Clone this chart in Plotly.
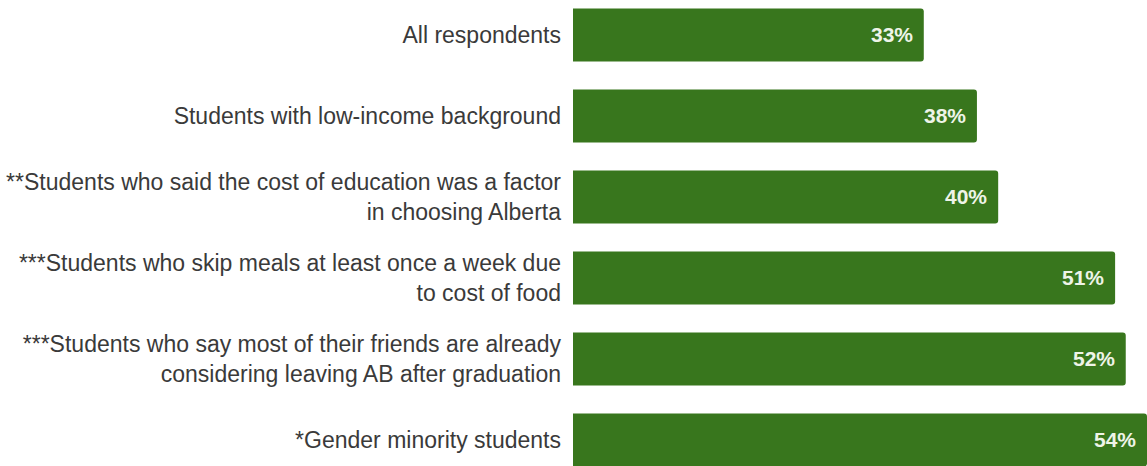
import plotly.graph_objects as go

categories = [
    "All respondents",
    "Students with low-income background",
    "**Students who said the cost of education was a factor<br>in choosing Alberta",
    "***Students who skip meals at least once a week due<br>to cost of food",
    "***Students who say most of their friends are already<br>considering leaving AB after graduation",
    "*Gender minority students",
]
values = [33, 38, 40, 51, 52, 54]
value_labels = [f"<b>{v}%</b>" for v in values]

BAR_COLOR = "#38761d"
FONT = "Liberation Sans, Arial, sans-serif"

fig = go.Figure(
    go.Bar(
        x=values,
        y=categories,
        orientation="h",
        marker=dict(color=BAR_COLOR, line=dict(width=0), cornerradius=3),
        hoverinfo="skip",
    )
)

annotations = [
    dict(
        x=v, y=c, text=t, xref="x", yref="y",
        xanchor="right", yanchor="middle", xshift=-9, showarrow=False,
        font=dict(family=FONT, size=21, color="#eef4e8"),
    )
    for v, c, t in zip(values, categories, value_labels)
]

fig.update_layout(
    width=1147,
    height=466,
    margin=dict(l=573, r=0, t=0, b=0),
    paper_bgcolor="white",
    plot_bgcolor="white",
    bargap=0.346,
    showlegend=False,
    annotations=annotations,
    font=dict(family=FONT, size=23, color="#3a3a3a"),
    xaxis=dict(range=[0, 54], visible=False, showgrid=False, zeroline=False),
    yaxis=dict(
        range=[5.322, -0.431],
        showgrid=False,
        zeroline=False,
        showline=False,
        ticks="",
        ticklabelstandoff=11,
        tickfont=dict(family=FONT, size=23, color="#3a3a3a"),
    ),
)

fig.write_html("out.html")
